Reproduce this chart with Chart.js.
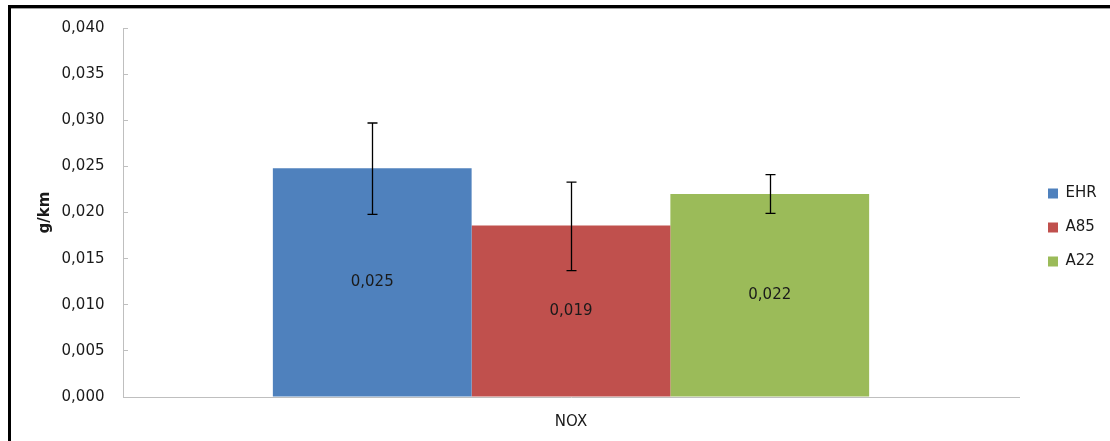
<!DOCTYPE html>
<html><head><meta charset="utf-8">
<script src="https://cdn.jsdelivr.net/npm/chart.js@4"></script>
<style>
html,body{margin:0;padding:0;background:#fff;overflow:hidden}
canvas{display:block}
</style></head><body>
<canvas id="c" width="1110" height="441"></canvas>
<script>
const categories = ['NOX'];
const seriesNames = ['EHR', 'A85', 'A22'];
const seriesColors = ['#4F81BD', '#C0504D', '#9BBB59'];
const ehrValues = [0.0248];
const a85Values = [0.0186];
const a22Values = [0.0220];
const errorLow = [0.0198, 0.0137, 0.0199];
const errorHigh = [0.0297, 0.0233, 0.0241];
const yTickLabels = ['0,000','0,005','0,010','0,015','0,020','0,025','0,030','0,035','0,040'];
const yTitle = 'g/km';

const FONT = 'DejaVu Sans';
const LEG_DX = 10, LEG_DY = 7;

const fmt = v => v.toFixed(3).replace('.', ',');

const frame = {
  id: 'frame',
  afterDraw(chart) {
    const ctx = chart.ctx;
    ctx.save();
    ctx.fillStyle = '#000';
    ctx.fillRect(8, 5, 1200, 3);
    ctx.fillRect(8, 5, 3, 600);
    ctx.fillStyle = '#a0a0a0';
    ctx.fillRect(11, 8, 1200, 1);
    ctx.restore();
  }
};

const legendAdjust = {
  id: 'legendAdjust',
  afterInit(chart) {
    const lg = chart.legend;
    const f = lg.fit;
    lg.fit = function () { f.call(this); if (this.options.position === 'right') this.width = 91; };
    const d = lg.draw;
    lg.draw = function () { const ctx = this.ctx; ctx.save(); ctx.translate(LEG_DX, LEG_DY); d.call(this); ctx.restore(); };
  }
};

const barExtras = {
  id: 'barExtras',
  afterDatasetsDraw(chart) {
    const ctx = chart.ctx;
    const ys = chart.scales.y;
    ctx.save();
    chart.data.datasets.forEach((ds, i) => {
      const meta = chart.getDatasetMeta(i);
      meta.data.forEach((bar, j) => {
        ctx.fillStyle = '#1a1a1a';
        ctx.font = '15px "' + FONT + '"';
        ctx.textAlign = 'center';
        ctx.textBaseline = 'middle';
        ctx.fillText(fmt(ds.data[j]), bar.x, (bar.y + bar.base) / 2);
        const yH = ys.getPixelForValue(errorHigh[i]);
        const yL = ys.getPixelForValue(errorLow[i]);
        const x = Math.round(bar.x) + 0.5;
        ctx.strokeStyle = '#000';
        ctx.lineWidth = 1.3;
        ctx.beginPath();
        ctx.moveTo(x, yH); ctx.lineTo(x, yL);
        ctx.moveTo(x - 5, yH); ctx.lineTo(x + 5, yH);
        ctx.moveTo(x - 5, yL); ctx.lineTo(x + 5, yL);
        ctx.stroke();
      });
    });
    ctx.restore();
  }
};

const values = [ehrValues, a85Values, a22Values];
new Chart(document.getElementById('c'), {
  type: 'bar',
  data: {
    labels: categories,
    datasets: seriesNames.map((n, i) => ({
      label: n,
      data: values[i],
      backgroundColor: seriesColors[i],
      borderWidth: 0,
      categoryPercentage: 0.6655,
      barPercentage: 1.0
    }))
  },
  options: {
    responsive: false,
    animation: false,
    devicePixelRatio: 1,
    layout: { padding: { top: 0, right: 0, bottom: 0, left: 0 } },
    font: { family: FONT, size: 15 },
    scales: {
      x: {
        grid: { drawOnChartArea: false, drawTicks: false },
        border: { color: '#bfbfbf', width: 1 },
        ticks: { padding: 16, color: '#1a1a1a', font: { family: FONT, size: 15 } },
        afterFit(s) { s.height = 44; }
      },
      y: {
        min: 0, max: 0.04,
        ticks: {
          stepSize: 0.005,
          padding: 23.5,
          color: '#1a1a1a',
          font: { family: FONT, size: 15 },
          callback: (v, i) => yTickLabels[i]
        },
        grid: { drawOnChartArea: false, tickLength: -5, color: '#bfbfbf', lineWidth: 1 },
        border: { color: '#bfbfbf', width: 1 },
        title: { display: true, text: yTitle, color: '#1a1a1a', font: { family: FONT, size: 15, weight: 'bold' }, padding: { top: 36, bottom: 0 } },
        afterFit(s) { s.width = 123; s.paddingTop = 28; s.paddingBottom = 10; }
      }
    },
    plugins: {
      legend: {
        position: 'right',
        labels: { boxWidth: 10, boxHeight: 10, padding: 19, color: '#1a1a1a', font: { family: FONT, size: 15 } }
      },
      tooltip: { enabled: false }
    }
  },
  plugins: [legendAdjust, barExtras, frame]
});
</script>
</body></html>
